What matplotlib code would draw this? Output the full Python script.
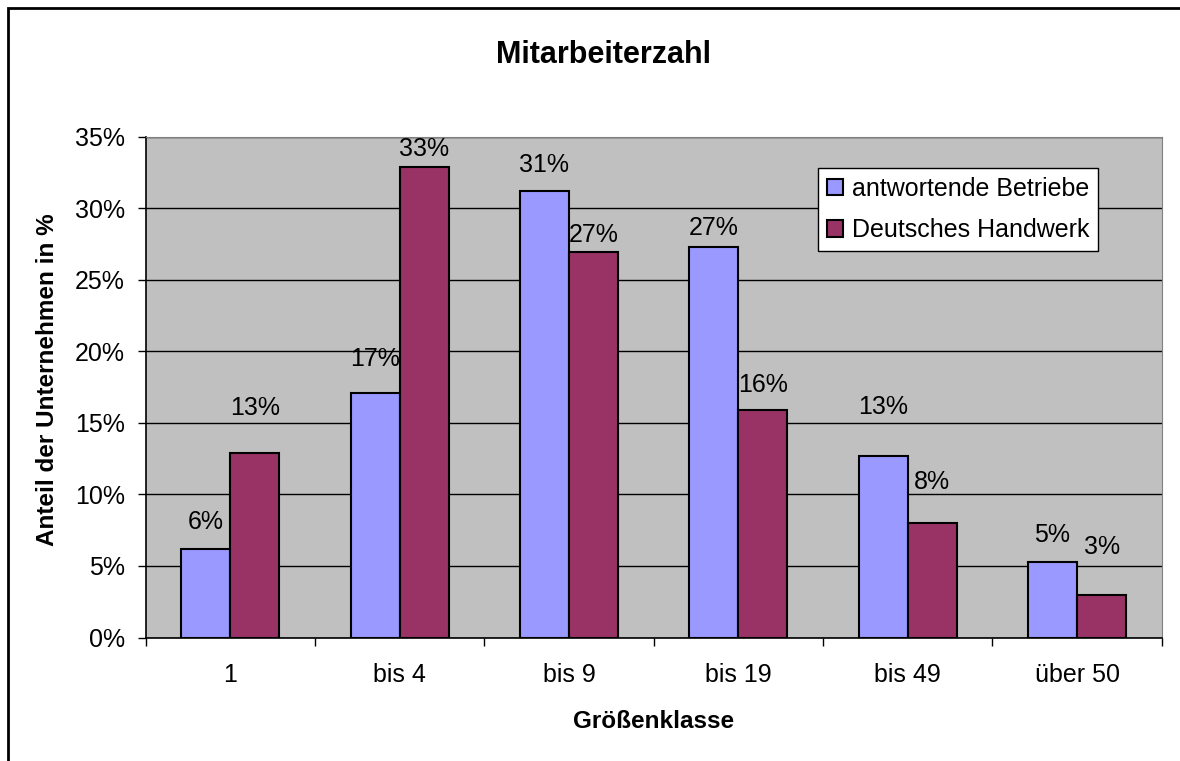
import numpy as np
import matplotlib
matplotlib.use('Agg')
import matplotlib.pyplot as plt
from matplotlib.patches import Rectangle
from matplotlib.ticker import FixedLocator, PercentFormatter

plt.rcParams['font.family'] = ['Liberation Sans', 'DejaVu Sans']

# data
categories = ['1', 'bis 4', 'bis 9', 'bis 19', 'bis 49', 'über 50']
antwortende = [6.2, 17.1, 31.2, 27.3, 12.7, 5.3]
handwerk = [12.9, 32.9, 26.9, 15.9, 8.0, 3.0]
label_antw = ['6%', '17%', '31%', '27%', '13%', '5%']
label_hw = ['13%', '33%', '27%', '16%', '8%', '3%']

# how far (pixels) each data label sits above its bar, as Excel put them
off_antw = [27, 34, 26, 19, 49, 27]
off_hw = [45, 18, 17, 25, 41, 48]

blue = '#9999FF'
red = '#993366'

fig = plt.figure(figsize=(11.8, 7.61), dpi=100)
ax = fig.add_axes([145.7/1180, 1 - 637.5/761, 1016/1180, 501/761])
ax.set_facecolor('#C0C0C0')

x = np.arange(len(categories))
w = 0.29
b1 = ax.bar(x - w/2, antwortende, w, color=blue, edgecolor='black', linewidth=1.5,
            label='antwortende Betriebe', zorder=3)
b2 = ax.bar(x + w/2, handwerk, w, color=red, edgecolor='black', linewidth=1.5,
            label='Deutsches Handwerk', zorder=3)

for bars, labs, offs in [(b1, label_antw, off_antw), (b2, label_hw, off_hw)]:
    for r, lab, o in zip(bars, labs, offs):
        ax.annotate(lab, (r.get_x() + r.get_width()/2, r.get_height()),
                    xytext=(0, o), textcoords='offset pixels',
                    ha='center', va='center', fontsize=18, zorder=4)

ax.set_xlim(-0.5, len(categories) - 0.5)
ax.set_ylim(0, 35)
ax.yaxis.set_major_locator(FixedLocator(np.arange(0, 36, 5)))
ax.yaxis.set_major_formatter(PercentFormatter(decimals=0))
ax.grid(axis='y', color='black', linewidth=1, zorder=1)

ax.set_xticks(x)
ax.set_xticklabels(categories)
ax.set_xticks(np.arange(-0.5, len(categories)), minor=True)
ax.tick_params(axis='x', which='major', length=0, pad=18, labelsize=18)
ax.tick_params(axis='x', which='minor', length=6, width=1, direction='out')
ax.tick_params(axis='y', length=6, width=1, pad=9, labelsize=18)

for s in ['top', 'right']:
    ax.spines[s].set_color('#808080')
for s in ['left', 'bottom']:
    ax.spines[s].set_color('black')
    ax.spines[s].set_linewidth(1.2)

ax.set_xlabel('Größenklasse', fontsize=17.5, fontweight='bold', va='center')
ax.xaxis.set_label_coords(0.5, (637.5 - 722) / 501)
ax.set_ylabel('Anteil der Unternehmen in %', fontsize=17.5, fontweight='bold', va='center')
ax.yaxis.set_label_coords((47 - 145.7) / 1016, (637.5 - 380) / 501)

fig.text(604/1180, 1 - 55/761, 'Mitarbeiterzahl', ha='center', va='center',
         fontsize=22, fontweight='bold')

leg = ax.legend(loc='upper left', bbox_to_anchor=(818/1180, 1 - 168/761),
                bbox_transform=fig.transFigure, fontsize=18, frameon=True,
                fancybox=False, edgecolor='black', framealpha=1,
                handlelength=0.65, handleheight=0.65, handletextpad=0.35,
                borderpad=0.35, labelspacing=0.7, borderaxespad=0)
leg.get_frame().set_linewidth(1)

# outer chart frame
fig.patches.append(Rectangle((8/1180, -0.1), 1.2, 1.1 - 8/761,
                             transform=fig.transFigure, fill=False,
                             edgecolor='black', linewidth=2))

fig.savefig('out.png', dpi=100)
